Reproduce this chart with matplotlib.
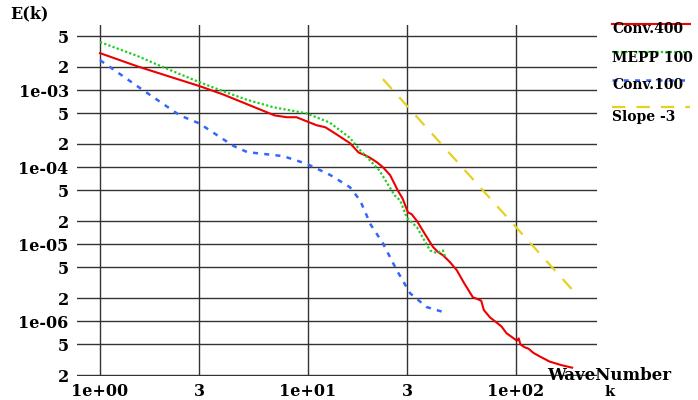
import matplotlib
matplotlib.use("Agg")
import matplotlib.pyplot as plt
from matplotlib.lines import Line2D
from matplotlib.ticker import FixedLocator, FixedFormatter, NullLocator

# --- donnees ---
k_conv400 = [1.0, 1.5, 2.0, 3.0, 3.9, 5.0, 6.9, 7.9, 8.8, 9.8, 11.0, 12.1, 13.2,
             15.9, 17.5, 18.9, 19.9, 21.5, 22.9, 24.8, 27.0, 28.5, 30.2, 31.5,
             33.4, 36.5, 39.9, 42.0, 44.5, 48.0, 51.9, 56.0, 62.0, 65.0, 68.0,
             70.0, 75.0, 80.0, 85.0, 90.0, 95.0, 101.0, 103.0, 105.0, 110.0,
             115.0, 121.0, 130.0, 145.0, 165.0, 186.0]
E_conv400 = [3.02e-3, 2.05e-3, 1.6e-3, 1.13e-3, 8.8e-4, 6.7e-4, 4.7e-4, 4.45e-4,
             4.45e-4, 3.96e-4, 3.5e-4, 3.3e-4, 2.85e-4, 2.05e-4, 1.55e-4,
             1.42e-4, 1.32e-4, 1.15e-4, 1.0e-4, 7.9e-5, 5.0e-5, 3.9e-5, 2.6e-5,
             2.45e-5, 2.0e-5, 1.35e-5, 9.2e-6, 8.0e-6, 7.2e-6, 5.9e-6, 4.6e-6,
             3.2e-6, 2.05e-6, 1.95e-6, 1.85e-6, 1.4e-6, 1.12e-6, 9.8e-7, 8.6e-7,
             7.0e-7, 6.3e-7, 5.6e-7, 6.0e-7, 5.0e-7, 4.6e-7, 4.4e-7, 3.9e-7,
             3.5e-7, 3.0e-7, 2.7e-7, 2.5e-7]

k_mepp100 = [1.0, 1.5, 2.0, 3.0, 3.9, 5.0, 6.8, 9.8, 12.7, 15.9, 17.8, 20.0,
             22.0, 26.1, 27.7, 29.9, 33.4, 38.6, 41.5, 44.5, 45.5]
E_mepp100 = [4.2e-3, 2.8e-3, 2.0e-3, 1.27e-3, 9.7e-4, 7.6e-4, 6.0e-4, 5.0e-4,
             3.8e-4, 2.4e-4, 1.66e-4, 1.2e-4, 9.1e-5, 4.3e-5, 3.7e-5, 2.2e-5,
             1.66e-5, 8.3e-6, 7.7e-6, 8.3e-6, 7.0e-6]

k_conv100 = [1.0, 1.56, 2.42, 3.0, 4.36, 5.1, 7.6, 9.9, 12.8, 15.9, 17.8, 20.0,
             22.9, 26.7, 31.0, 37.2, 45.5]
E_conv100 = [2.45e-3, 1.06e-3, 4.7e-4, 3.7e-4, 1.9e-4, 1.57e-4, 1.39e-4,
             1.1e-4, 7.9e-5, 5.5e-5, 3.7e-5, 1.8e-5, 1.03e-5, 4.6e-6, 2.3e-6,
             1.53e-6, 1.3e-6]

k_slope = [22.9, 188.0]
E_slope = [1.39e-3, 2.5e-6]

xticks = [1, 3, 10, 30, 100]
xtick_labels = ["1e+00", "3", "1e+01", "3", "1e+02"]
yticks = [5e-3, 2e-3, 1e-3, 5e-4, 2e-4, 1e-4, 5e-5, 2e-5, 1e-5, 5e-6, 2e-6,
          1e-6, 5e-7, 2e-7]
ytick_labels = ["5", "2", "1e-03", "5", "2", "1e-04", "5", "2", "1e-05", "5",
                "2", "1e-06", "5", "2"]

series = [
    ("Conv.400", k_conv400, E_conv400, dict(color="#ee0000", lw=1.5, ls="-")),
    ("MEPP 100", k_mepp100, E_mepp100, dict(color="#22cc22", lw=1.6, ls=(0, (1, 1)))),
    ("Conv.100", k_conv100, E_conv100, dict(color="#3366ff", lw=1.8, ls=(0, (2, 2.5)))),
    ("Slope -3", k_slope, E_slope, dict(color="#e6d020", lw=1.6, ls=(0, (6, 5)))),
]

plt.rcParams["font.family"] = ["DejaVu Serif"]
plt.rcParams["font.weight"] = "bold"
FS = 11.5

W, H = 698, 400
fig = plt.figure(figsize=(W / 100, H / 100), dpi=100)
ax = fig.add_axes([77 / W, 1 - 376 / H, (597 - 77) / W, (376 - 25) / H])

for name, k, E, st in series:
    ax.plot(k, E, **st)

ax.set_xscale("log")
ax.set_yscale("log")
ax.set_xlim(0.775, 245)
ax.set_ylim(1.95e-7, 7.0e-3)

ax.xaxis.set_major_locator(FixedLocator(xticks))
ax.xaxis.set_major_formatter(FixedFormatter(xtick_labels))
ax.xaxis.set_minor_locator(NullLocator())
ax.yaxis.set_major_locator(FixedLocator(yticks))
ax.yaxis.set_major_formatter(FixedFormatter(ytick_labels))
ax.yaxis.set_minor_locator(NullLocator())
ax.tick_params(length=0, labelsize=FS)
ax.tick_params(axis="y", pad=6)
ax.tick_params(axis="x", pad=5)
for lab in ax.get_xticklabels() + ax.get_yticklabels():
    lab.set_fontweight("bold")

ax.grid(True, color="#333333", lw=1.0)
ax.set_axisbelow(True)
for sp in ax.spines.values():
    sp.set_visible(False)

fig.text(10 / W, 1 - 14 / H, "E(k)", fontsize=FS, fontweight="bold", va="center", ha="left")
fig.text(547 / W, 1 - 384 / H, "WaveNumber", fontsize=FS + 0.5, fontweight="bold", va="bottom", ha="left")
fig.text(610 / W, 1 - 396 / H, "k", fontsize=FS - 1, fontweight="bold", va="baseline", ha="center")

# legende a droite
leg_line_y = [23.5, 52, 80, 107]
leg_text_y = [29, 58, 85, 117]
for (name, k, E, st), ly, ty in zip(series, leg_line_y, leg_text_y):
    fig.add_artist(Line2D([612 / W, 690 / W], [1 - ly / H, 1 - ly / H],
                          transform=fig.transFigure, **st))
    fig.text(612 / W, 1 - ty / H, name, fontsize=FS - 1.5, fontweight="bold",
             va="center", ha="left")

fig.savefig("out.png", dpi=100)
